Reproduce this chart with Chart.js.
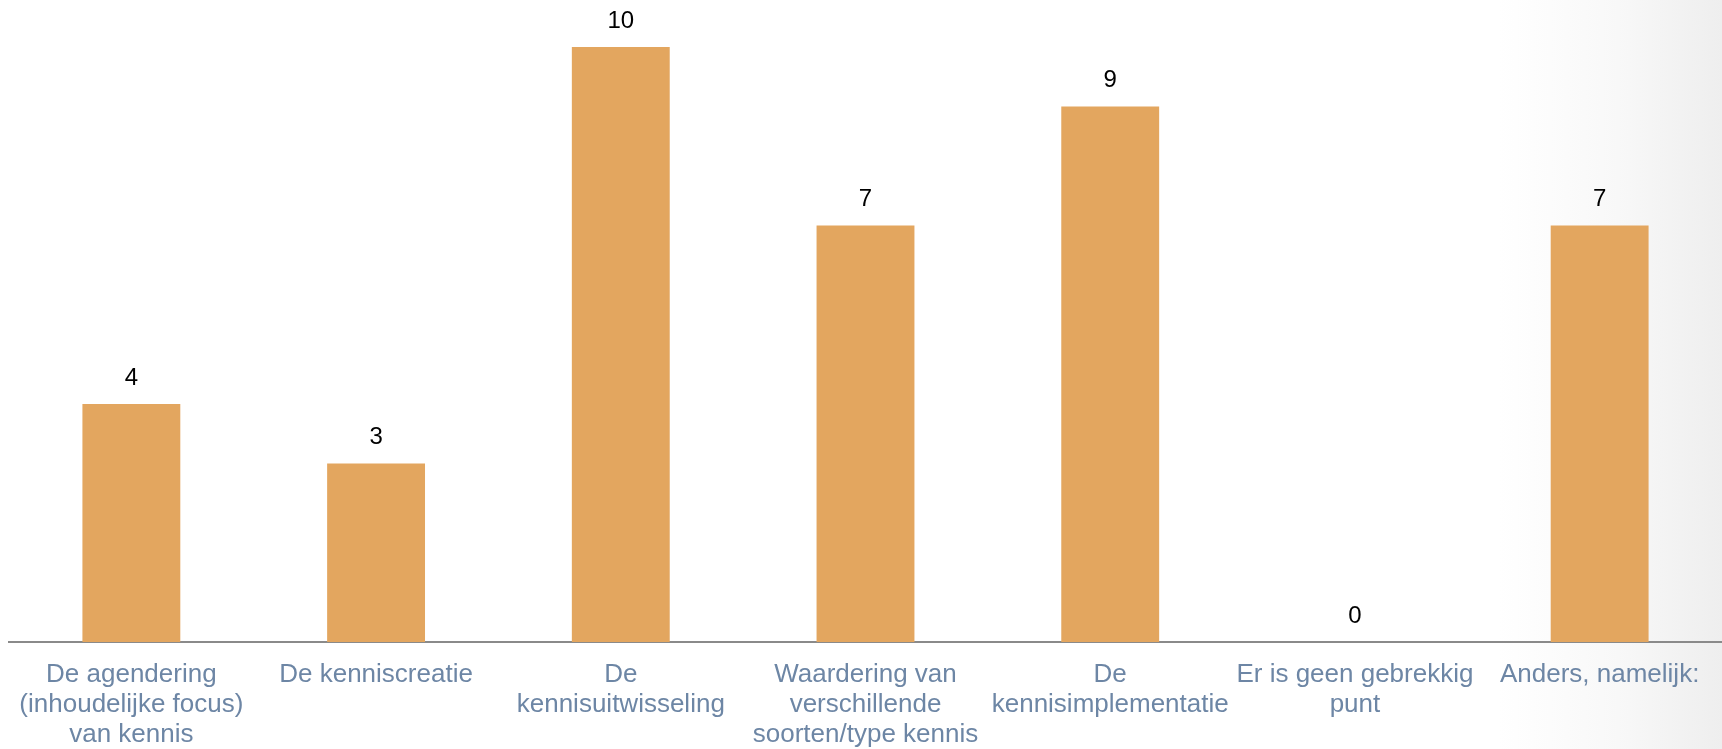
<!DOCTYPE html>
<html>
<head>
<meta charset="utf-8">
<script src="https://cdn.jsdelivr.net/npm/chart.js@4"></script>
<style>
  html, body { margin: 0; padding: 0; }
  body {
    width: 1722px;
    height: 749px;
    background: linear-gradient(to right, #ffffff 0%, #ffffff 87%, #f8f8f8 94%, #eeeeee 100%);
  }
  #wrap { width: 1722px; height: 749px; position: relative; }
</style>
</head>
<body>
<div id="wrap"><canvas id="barChart"></canvas></div>
<script>
const categories = [
  ["De agendering", "(inhoudelijke focus)", "van kennis"],
  "De kenniscreatie",
  ["De", "kennisuitwisseling"],
  ["Waardering van", "verschillende", "soorten/type kennis"],
  ["De", "kennisimplementatie"],
  ["Er is geen gebrekkig", "punt"],
  "Anders, namelijk:"
];
const counts = [4, 3, 10, 7, 9, 0, 7];

// draws the number above each bar
const valueLabels = {
  id: "valueLabels",
  afterDatasetsDraw(chart) {
    const ctx = chart.ctx;
    const meta = chart.getDatasetMeta(0);
    ctx.save();
    ctx.font = "24px 'Liberation Sans', Arial, sans-serif";
    ctx.fillStyle = "#000000";
    ctx.textAlign = "center";
    ctx.textBaseline = "middle";
    meta.data.forEach((bar, i) => {
      ctx.fillText(String(counts[i]), bar.x, bar.y - 26);
    });
    ctx.restore();
  },
};

const ctx = document.getElementById("barChart").getContext("2d");
new Chart(ctx, {
  type: "bar",
  data: {
    labels: categories,
    datasets: [
      {
        data: counts,
        backgroundColor: "#e3a65f",
        borderWidth: 0,
        categoryPercentage: 1,
        barPercentage: 0.4,
      },
    ],
  },
  options: {
    responsive: true,
    maintainAspectRatio: false,
    animation: false,
    layout: { padding: { top: 47, left: 9, right: 0, bottom: 0 } },
    plugins: {
      legend: { display: false },
      tooltip: { enabled: false },
    },
    scales: {
      y: {
        display: false,
        min: 0,
        max: 10,
      },
      x: {
        grid: { display: false },
        border: { display: true, color: "#8a8a8a", width: 2 },
        afterFit(scale) {
          scale.height = 107;
        },
        ticks: {
          autoSkip: false,
          maxRotation: 0,
          padding: 10,
          color: "#6d86a5",
          font: { family: "'Liberation Sans', Arial, sans-serif", size: 26, lineHeight: "30px" },
        },
      },
    },
  },
  plugins: [valueLabels],
});
</script>
</body>
</html>
